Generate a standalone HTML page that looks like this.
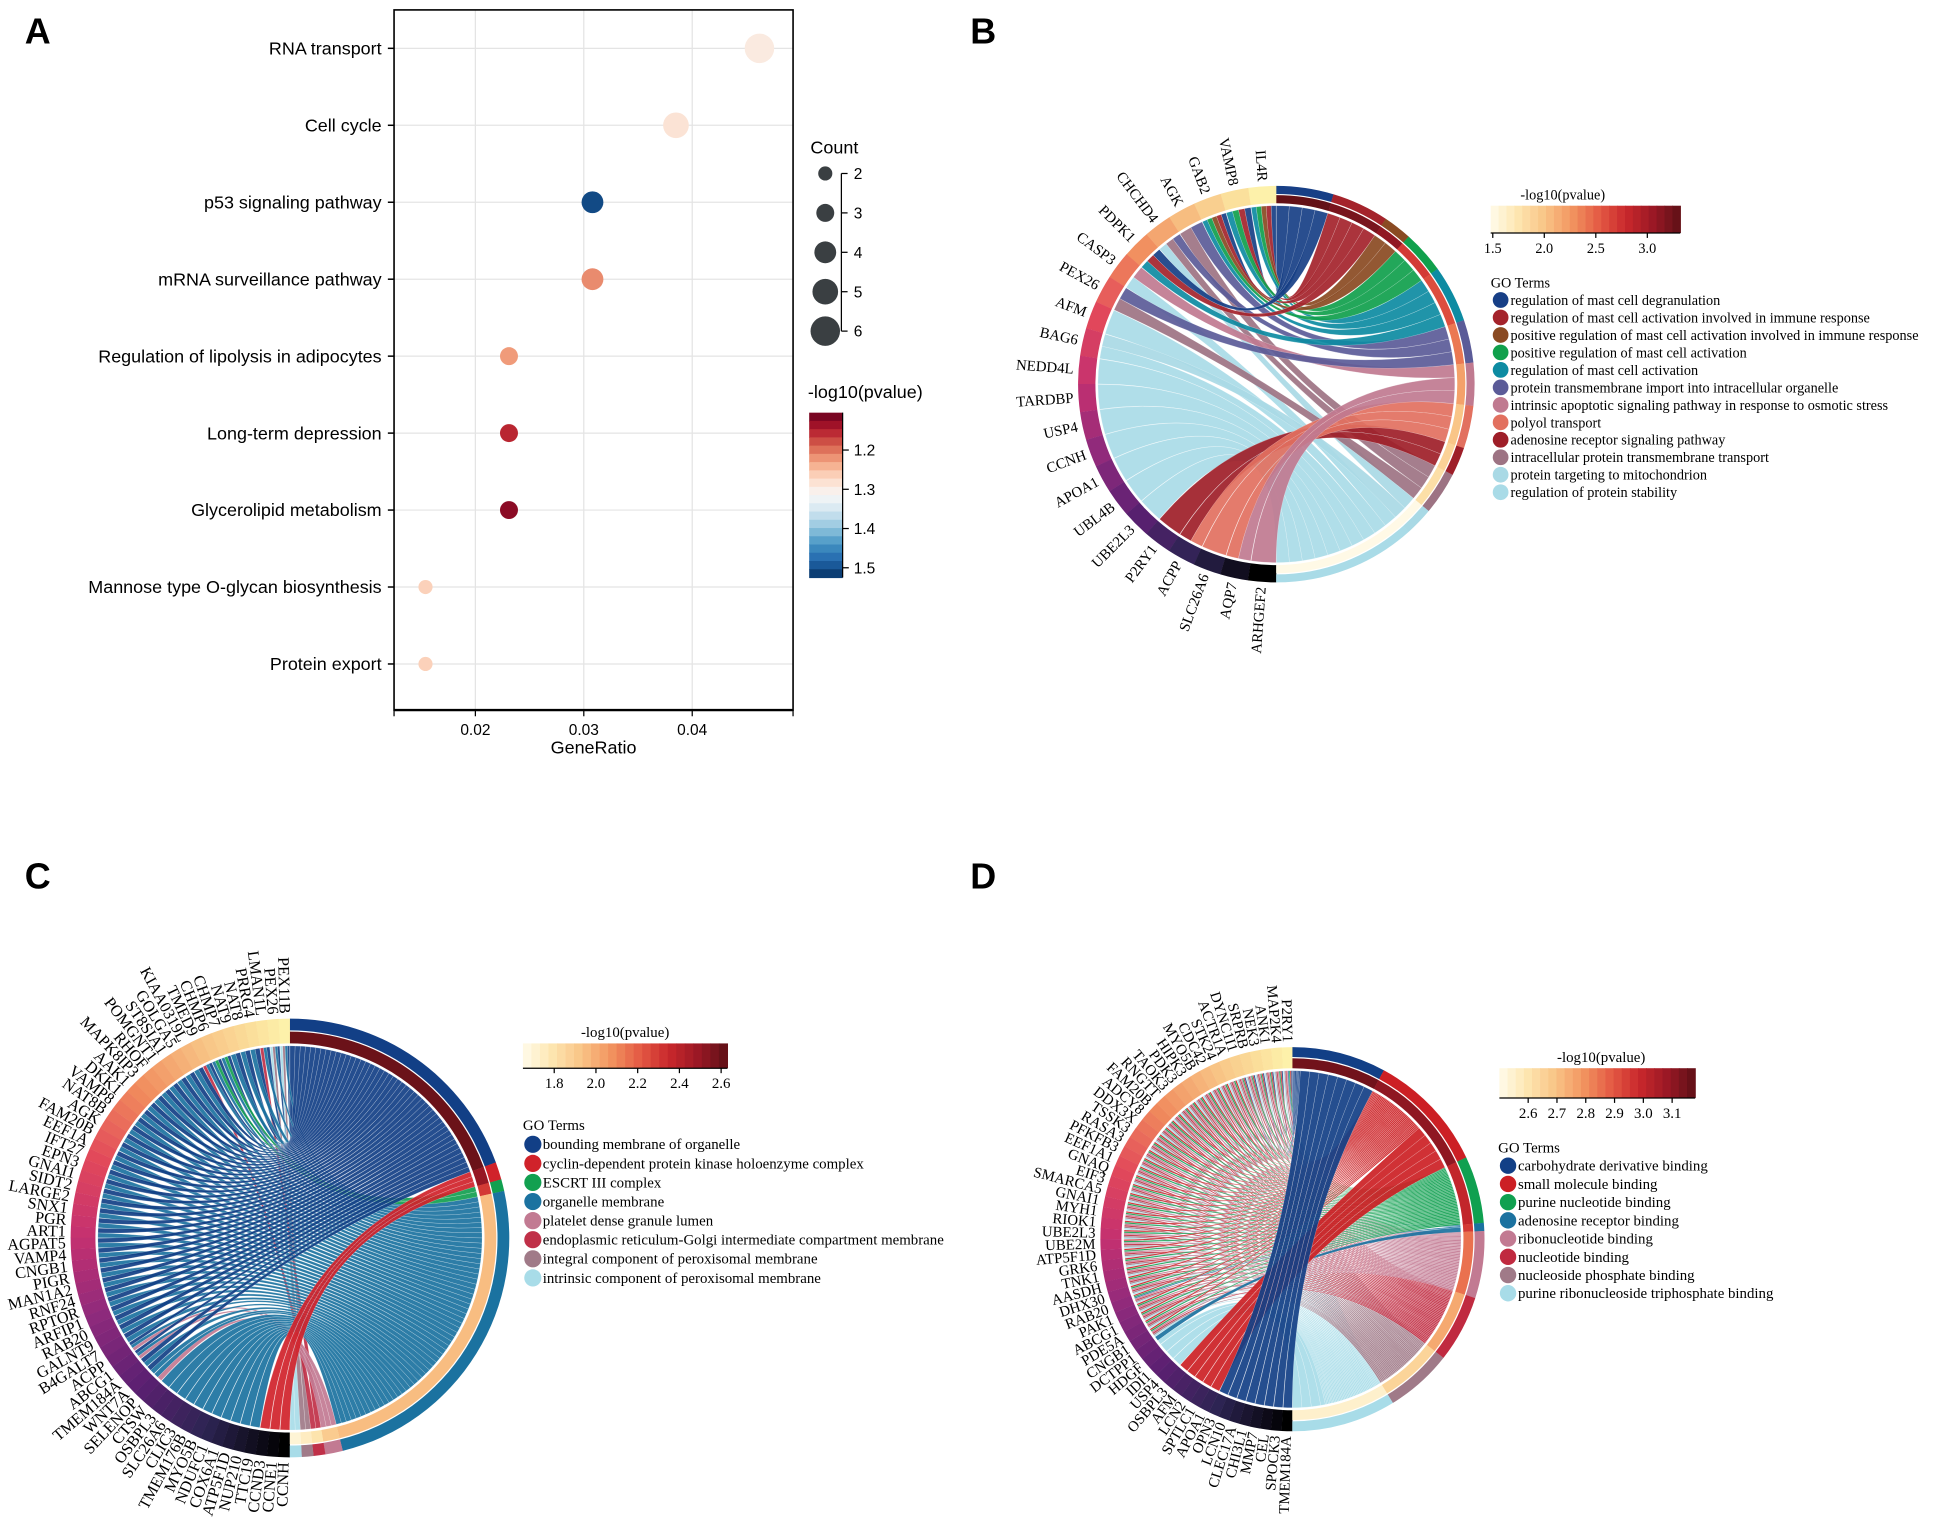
<!DOCTYPE html>
<html><head><meta charset="utf-8"><style>
html,body{margin:0;padding:0;background:#fff;}
svg{display:block;}
.sans{font-family:"Liberation Sans",Arial,sans-serif;}
.serif{font-family:"Liberation Serif","Times New Roman",serif;}
</style></head><body>
<svg id="fig" width="1943" height="1523" viewBox="0 0 1568 1229" preserveAspectRatio="none" xmlns="http://www.w3.org/2000/svg">
<rect x="0" y="0" width="1568" height="1229" fill="#fff"/>
<g class="sans" font-weight="bold" font-size="29" fill="#000">
<text x="20" y="35">A</text>
<text x="783" y="35">B</text>
<text x="20" y="717">C</text>
<text x="783" y="717">D</text>
</g>
<g id="panelA"></g>
<g id="panelB"></g>
<g id="panelC"></g>
<g id="panelD"></g>
</svg>
<script>
// ---------- Panel A data ----------
const aCategories = ["RNA transport","Cell cycle","p53 signaling pathway","mRNA surveillance pathway","Regulation of lipolysis in adipocytes","Long-term depression","Glycerolipid metabolism","Mannose type O-glycan biosynthesis","Protein export"];
const aGeneRatio = [0.0462,0.0385,0.0308,0.0308,0.0231,0.0231,0.0231,0.0154,0.0154];
const aCount = [6,5,4,4,3,3,3,2,2];
const aLogP = [1.29,1.28,1.50,1.21,1.22,1.15,1.12,1.26,1.26];
const aXTicks = [0.02,0.03,0.04];
const aCountTicks = [2,3,4,5,6];
const aColorTicks = [1.2,1.3,1.4,1.5];

// ---------- Panel B data ----------
const bGenes = ["IL4R","VAMP8","GAB2","AGK","CHCHD4","PDPK1","CASP3","PEX26","AFM","BAG6","NEDD4L","TARDBP","USP4","CCNH","APOA1","UBL4B","UBE2L3","P2RY1","ACPP","SLC26A6","AQP7","ARHGEF2"];
const bTerms = ["regulation of mast cell degranulation","regulation of mast cell activation involved in immune response","positive regulation of mast cell activation involved in immune response","positive regulation of mast cell activation","regulation of mast cell activation","protein transmembrane import into intracellular organelle","intrinsic apoptotic signaling pathway in response to osmotic stress","polyol transport","adenosine receptor signaling pathway","intracellular protein transmembrane transport","protein targeting to mitochondrion","regulation of protein stability"];
const bTermColors = ["#173f86","#a4232b","#8a4a22","#10a04c","#0d8ba2","#5b5b98","#c07a90","#e2705f","#9e1e28","#9d7383","#a9d9e5","#a9dbe7"];
const bTermLogP = [3.3,3.2,3.1,2.7,2.6,2.4,2.2,2.0,1.9,1.8,1.5,1.5];
const bLinks = [[0,1,2,3,4],[0,1,3,4],[0,1,2,3,4],[5,9],[5,9,10],[0,1,4],[6,11],[5,9],[11],[10,11],[11],[11],[11],[11],[11],[11],[11],[8],[8,7],[7],[7,6],[6]];
const bColorTicks = [1.5,2.0,2.5,3.0];

// ---------- Panel C data ----------
const cGenes = ["PEX11B","PEX26","LMAN1L","PRRG4","NAT8","NAT9","CHMP7","CHMP6","TMED9","KIAA0319L","GOLGA5","ST8SIA1","POMGNT1","RHOF","MAPK8IP3","AAK1","DKK1","VAMP8","NAT8B","AGK","FAM20B","EEF1A","IFT27","EPN3","GNAI1","SIDT2","LARGE2","SNX1","PGR","ART1","AGPAT5","VAMP4","CNGB1","PIGR","MAN1A2","RNF24","RPTOR","ARFIP1","RAB20","GALNT9","B4GALT7","ACPP","ABCG1","TMEM184A","WNT7A","SELENOP","CTSW","OSBPL3","SLC26A6","CLIC3","TMEM176B","MYO5B","NDUFC1","COX6A1","ATP5F1D","NUP210","TTC19","CCND3","CCNE1","CCNH"];
const cTerms = ["bounding membrane of organelle","cyclin-dependent protein kinase holoenzyme complex","ESCRT III complex","organelle membrane","platelet dense granule lumen","endoplasmic reticulum-Golgi intermediate compartment membrane","integral component of peroxisomal membrane","intrinsic component of peroxisomal membrane"];
const cTermColors = ["#123f86","#d0222a","#12a050","#1b72a0","#c27a92","#c03048","#a07a88","#a8dce8"];
const cTermLogP = [2.6,2.5,2.3,1.95,1.9,1.8,1.75,1.7];
const cLinks = [[0,3,6,7],[0,3,6,7],[0,3,5],[0,3],[0,3],[0,3],[0,2,3],[0,2,3],[0,3,5],[0,3],[0,3],[0,3],[0,3],[0,3],[0,3],[0,3],[0,3],[0,3],[0,3],[0,3],[0,3],[0,3],[0,3],[0,3],[0,3],[0,3],[0,3],[0,3],[0,3],[0,3],[0,3],[0,3],[0,3],[0,3],[0,3],[0,3],[0,3],[0,3],[0,3],[0,3],[0,3],[0,3,4],[0,3,4],[0,3],[0,3],[3,4],[3],[3],[3],[3],[3],[3],[3],[3],[3],[3],[3],[1],[1],[1]];
const cColorTicks = [1.8,2.0,2.2,2.4,2.6];

// ---------- Panel D data ----------
const dGenes = ["P2RY1","MAP2K4","ANK1","NEK3","SRPRB","DYNC1I1","ACTR1A","STK24","CDC42","MYO5B","HIPK3","PDK3","TAOK3","RNGTT","FAM20B","ADCY8","DDX3X","TSSK3","RASA3","PFKFB3","EEF1A1","GNAQ","EIF3","SMARCA5","GNAI1","MYH1","RIOK1","UBE2L3","UBE2M","ATP5F1D","GRK6","TNK1","AASDH","DHX30","RAB20","PAK1","ABCG1","PDE5A","CNGB1","DCTPP1","HDGF","IDI1","USP4","OSBPL3","AFM","LCN2","SPTLC1","APOA1","OPN3","LCN10","CLEC17A","CHI3L1","MMP7","CEL","SPOCK3","TMEM184A"];
const dTerms = ["carbohydrate derivative binding","small molecule binding","purine nucleotide binding","adenosine receptor binding","ribonucleotide binding","nucleotide binding","nucleoside phosphate binding","purine ribonucleoside triphosphate binding"];
const dTermColors = ["#123f86","#cc1f24","#10a050","#1b72a0","#c27a92","#c02a40","#a07a88","#a8dce8"];
const dTermLogP = [3.15,3.1,3.0,2.95,2.85,2.75,2.65,2.55];
const dLinks = [[0,1,2,3,4,5,6,7],[0,1,2,4,5,6,7],[0,1,2,4,5,6,7],[0,1,2,4,5,6,7],[0,1,2,4,5,6,7],[0,1,2,4,5,6,7],[1,2,4,5,6,7],[1,2,4,5,6,7],[1,2,4,5,6,7],[1,2,4,5,6,7],[1,2,4,5,6,7],[1,2,4,5,6,7],[1,2,4,5,6,7],[1,2,4,5,6,7],[1,2,4,5,6,7],[1,2,4,5,6,7],[1,2,4,5,6,7],[1,2,4,5,6,7],[1,2,4,5,6,7],[1,2,4,5,6,7],[1,2,4,5,6,7],[1,2,4,5,6,7],[1,2,4,5,6,7],[1,2,4,5,6,7],[1,2,4,5,6,7],[1,2,4,5,6,7],[1,2,4,5,6,7],[1,2,4,5,6,7],[1,2,4,5,6,7],[1,2,4,5,6,7],[1,2,4,5,6,7],[1,2,4,5,6,7],[1,2,4,5,6,7],[1,2,4,5,6,7],[1,2,3,4,5,6,7],[1,2,4,5,6,7],[1,2,4,5,6,7],[1,2,4,5,6,7],[1,2,4,5,6,7],[3,7],[7],[7],[7],[1],[1],[1],[1],[1],[0],[0],[0],[0],[0],[0],[0],[0]];
const dColorTicks = [2.6,2.7,2.8,2.9,3.0,3.1];

// ---------- helpers ----------
const NS = "http://www.w3.org/2000/svg";
function mk(tag, attrs, parent){ const e=document.createElementNS(NS,tag); for(const k in attrs) e.setAttribute(k,attrs[k]); if(parent) parent.appendChild(e); return e; }
function hex2rgb(h){ return [parseInt(h.substr(1,2),16),parseInt(h.substr(3,2),16),parseInt(h.substr(5,2),16)]; }
function interp(stops, t){ t=Math.max(0,Math.min(1,t)); const n=stops.length-1; const i=Math.min(n-1,Math.floor(t*n)); const f=t*n-i; const a=hex2rgb(stops[i]), b=hex2rgb(stops[i+1]); return "rgb("+a.map((v,k)=>Math.round(v+(b[k]-v)*f)).join(",")+")"; }
const RdBu = ["#67001f","#b2182b","#d6604d","#f4a582","#fddbc7","#f7f7f7","#d1e5f0","#92c5de","#4393c3","#2166ac","#053061"];
const Seq = ["#fffbea","#fde6b0","#f9c486","#f29560","#e45a44","#c9282c","#9a1825","#5e1016"];
const GeneGrad = ["#fdf1aa","#f8c586","#f08a5c","#e2485a","#c43070","#8e2a7c","#5c2072","#2c2452","#000000"];

// ---------- Panel A ----------
(function(){
  const g = document.getElementById("panelA");
  const L=318, R=640, T=8, B=573;
  const xMin=0.0125, xMax=0.0493;
  const xs = v => L + (v-xMin)/(xMax-xMin)*(R-L);
  const y0=39, dy=62.1;
  const ys = i => y0 + i*dy;
  const rs = c => 2.6 + c*1.55;
  const cMin=1.1, cMax=1.52;
  const col = v => interp(RdBu,(v-cMin)/(cMax-cMin));
  const sans = mk("g",{"class":"sans"},g);
  aXTicks.forEach(t=>{
    const l=mk("line",{x1:xs(t),x2:xs(t),y1:T,y2:B,stroke:"#e4e4e4","stroke-width":1},g);
    
    
  });
  aCategories.forEach((c,i)=>{
    const l=mk("line",{x1:L,x2:R,y1:ys(i),y2:ys(i),stroke:"#e4e4e4","stroke-width":1},g);
    
    
    mk("line",{x1:L-5,x2:L,y1:ys(i),y2:ys(i),stroke:"#000","stroke-width":1.2},g);
    const t=mk("text",{x:L-10,y:ys(i)+5,"text-anchor":"end","font-size":14.5,fill:"#000"},sans);
    t.textContent=c;
    
    
  });
  const box=mk("rect",{x:L,y:T,width:R-L,height:B-T,fill:"none",stroke:"#000","stroke-width":1.3},g);
  
  
  mk("line",{x1:L,x2:R,y1:B,y2:B,stroke:"#000","stroke-width":2},g);
  mk("line",{x1:L,x2:L,y1:B,y2:B+5,stroke:"#000"},g);
  mk("line",{x1:R,x2:R,y1:B,y2:B+5,stroke:"#000"},g);
  aXTicks.forEach(t=>{
    mk("line",{x1:xs(t),x2:xs(t),y1:B,y2:B+5,stroke:"#000"},g);
    const tx=mk("text",{x:xs(t),y:B+20,"text-anchor":"middle","font-size":12.5},sans);
    tx.textContent=t.toFixed(2);
    
    
  });
  const xt=mk("text",{x:(L+R)/2,y:B+35,"text-anchor":"middle","font-size":14.5},sans);
  xt.textContent="GeneRatio";
  
  
  aCategories.forEach((c,i)=>{
    const p=mk("circle",{cx:xs(aGeneRatio[i]),cy:ys(i),r:rs(aCount[i]),fill:col(aLogP[i])},g);
    
    
  });
  const ct=mk("text",{x:654,y:124,"font-size":14.5},sans); ct.textContent="Count";
  
  
  const cy = c => 140 + (c-2)*31.8;
  mk("line",{x1:679,x2:679,y1:cy(2),y2:cy(6),stroke:"#000"},g);
  aCountTicks.forEach(c=>{
    const e=mk("circle",{cx:666,cy:cy(c),r:rs(c),fill:"#3a3f42"},g);
    
    
    mk("line",{x1:679,x2:684,y1:cy(c),y2:cy(c),stroke:"#000"},g);
    const t=mk("text",{x:689,y:cy(c)+4.5,"font-size":12.5},sans); t.textContent=c;
  });
  const lt=mk("text",{x:652,y:321,"font-size":14.5},sans); lt.textContent="-log10(pvalue)";
  
  
  const cbT=333, cbB=466, nb=20;
  const cbY = v => cbT + (v-cMin)/(cMax-cMin)*(cbB-cbT) ;
  for(let k=0;k<nb;k++){
    mk("rect",{x:653,y:cbT+k*(cbB-cbT)/nb,width:27,height:(cbB-cbT)/nb+0.5,fill:interp(RdBu,(k+0.5)/nb)},g);
  }
  mk("line",{x1:680,x2:680,y1:cbT,y2:cbB,stroke:"#000"},g);
  aColorTicks.forEach(v=>{
    const y=cbY(v)-1.5;
    mk("line",{x1:680,x2:685,y1:y,y2:y,stroke:"#000"},g);
    const t=mk("text",{x:689,y:y+4.5,"font-size":12.5},sans); t.textContent=v.toFixed(1);
  });
})();

// ---------- chord builder ----------
function chord(gid, cfg){
  const g=document.getElementById(gid);
  const {cx,cy,R,ring,genes,terms,termColors,termLogP,links,pMin,pMax,labelSize,legend,weighted} = cfg;
  const P=(r,th)=>[cx+r*Math.sin(th*Math.PI/180), cy-r*Math.cos(th*Math.PI/180)];
  const arcSeg=(r1,r2,a,b,fill,name)=>{
    const large=(b-a)>180?1:0;
    const p1=P(r2,a),p2=P(r2,b),p3=P(r1,b),p4=P(r1,a);
    const d=`M${p1}A${r2},${r2} 0 ${large} 1 ${p2}L${p3}A${r1},${r1} 0 ${large} 0 ${p4}Z`;
    const e=mk("path",{d:d,fill:fill},g);
    
    
    return e;
  };
  const nG=genes.length, gGap=0.15;
  const gSpan=(180)/nG;
  const geneA = i=>[360-(i+1)*gSpan, 360-i*gSpan];
  const lw = ls => weighted ? 1/ls.length : 1;
  const termW=terms.map(()=>0);
  links.forEach(ls=>ls.forEach(t=>termW[t]+=lw(ls)));
  const total=termW.reduce((a,b)=>a+b,0);
  const termA=[]; let acc=0;
  termW.forEach((c)=>{ const s=c/total*180; termA.push([acc,acc+s]); acc+=s; });
  const rIn=R-ring-2;
  const termUsed=terms.map(()=>0);
  const ribbons=mk("g",{},g);
  links.forEach((ls,i)=>{
    const [ga,gb]=geneA(i);
    const w=(gb-ga-gGap)/ls.length;
    ls.forEach((t,k)=>{
      const a1=gb-gGap/2-k*w, a2=a1-w;
      const tw=(termA[t][1]-termA[t][0])*lw(ls)/termW[t];
      const b1=termA[t][0]+termUsed[t], b2=b1+tw; termUsed[t]+=tw;
      const pa1=P(rIn,a1),pa2=P(rIn,a2),pb1=P(rIn,b1),pb2=P(rIn,b2);
      const d=`M${pa1}A${rIn},${rIn} 0 0 0 ${pa2}Q${cx},${cy} ${pb2}A${rIn},${rIn} 0 0 0 ${pb1}Q${cx},${cy} ${pa1}Z`;
      const e=mk("path",{d:d,fill:termColors[t],"fill-opacity":0.92,stroke:"#fff","stroke-width":0.25,"stroke-opacity":0.6},ribbons);
      
      
    });
  });
  genes.forEach((n,i)=>{
    const [a,b]=geneA(i);
    arcSeg(R-ring,R,a,b+0.05,interp(GeneGrad,i/(nG-1)),'gene-segment-'+n.toLowerCase());
    const th=(a+b)/2; const p=P(R+4,th);
    const t=mk("text",{x:p[0],y:p[1],"text-anchor":"end","dominant-baseline":"central","font-size":labelSize,"class":"serif",transform:`rotate(${th-270} ${p[0]} ${p[1]})`},g);
    t.textContent=n;
    
    
  });
  const half=ring/2;
  terms.forEach((n,t)=>{
    const [a,b]=termA[t];
    arcSeg(R-half+0.5,R,a,b+0.05,termColors[t],'term-outer-ring');
    arcSeg(R-ring,R-half-0.5,a,b+0.05,interp(Seq,(termLogP[t]-pMin)/(pMax-pMin)),'term-pvalue-ring');
  });
  const L=legend;
  const tt=mk("text",{x:L.cbx+L.cbw*L.titleFrac,y:L.cby-5,"text-anchor":"middle","font-size":L.fs,"class":"serif"},g);
  tt.textContent="-log10(pvalue)";
  
  
  const nb=24;
  for(let k=0;k<nb;k++) mk("rect",{x:L.cbx+k*L.cbw/nb,y:L.cby,width:L.cbw/nb+0.5,height:L.cbh,fill:interp(Seq,(k+0.5)/nb)},g);
  mk("line",{x1:L.cbx,x2:L.cbx+L.cbw,y1:L.cby+L.cbh,y2:L.cby+L.cbh,stroke:"#000"},g);
  const cbX=v=>L.cbx+(v-pMin)/(pMax-pMin)*L.cbw;
  L.ticks.forEach(v=>{
    mk("line",{x1:cbX(v),x2:cbX(v),y1:L.cby+L.cbh,y2:L.cby+L.cbh+4,stroke:"#000"},g);
    const t=mk("text",{x:cbX(v),y:L.cby+L.cbh+16,"text-anchor":"middle","font-size":L.fs,"class":"serif"},g);
    t.textContent=v.toFixed(1);
    
    
  });
  const gt=mk("text",{x:L.tx-1,y:L.ty,"font-size":L.fs,"class":"serif"},g); gt.textContent="GO Terms";
  
  
  terms.forEach((n,t)=>{
    const y=L.ty+L.step*(t+1);
    const c=mk("circle",{cx:L.tx+7,cy:y-4,r:L.step*0.45,fill:termColors[t]},g);
    
    
    const e=mk("text",{x:L.tx+15,y:y,"font-size":L.fs,"class":"serif"},g);
    e.textContent=n;
    
    
  });
}

chord("panelB",{cx:1030,cy:310,R:160,ring:14,genes:bGenes,terms:bTerms,termColors:bTermColors,termLogP:bTermLogP,links:bLinks,pMin:1.48,pMax:3.32,labelSize:12,weighted:false,
  legend:{cbx:1203,cby:166,cbw:153,cbh:22,titleFrac:0.38,ticks:bColorTicks,tx:1204,ty:232,step:14.1,fs:11.5}});
chord("panelC",{cx:234,cy:999,R:177,ring:20,genes:cGenes,terms:cTerms,termColors:cTermColors,termLogP:cTermLogP,links:cLinks,pMin:1.65,pMax:2.63,labelSize:13,weighted:false,
  legend:{cbx:422,cby:842,cbw:165,cbh:20,titleFrac:0.5,ticks:cColorTicks,tx:423,ty:912,step:15.4,fs:12}});
chord("panelD",{cx:1043,cy:1000,R:155,ring:17,genes:dGenes,terms:dTerms,termColors:dTermColors,termLogP:dTermLogP,links:dLinks,pMin:2.5,pMax:3.18,labelSize:12,weighted:true,
  legend:{cbx:1210,cby:862,cbw:158,cbh:24,titleFrac:0.52,ticks:dColorTicks,tx:1210,ty:930,step:14.7,fs:12}});
</script>
</body></html>
